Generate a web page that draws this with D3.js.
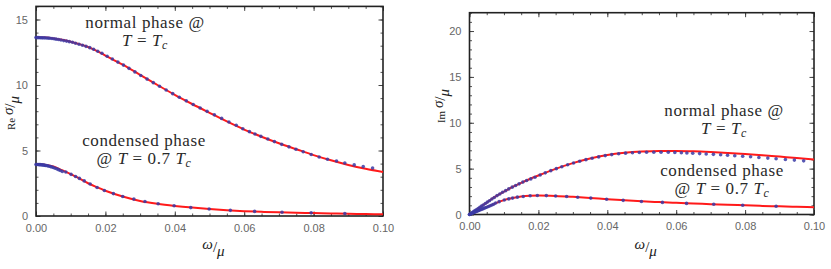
<!DOCTYPE html>
<html>
<head>
<meta charset="utf-8">
<script src="https://cdn.jsdelivr.net/npm/d3@7"></script>
<style>
  body { margin: 0; background: #fff; }
  .tick text { font-family: "Liberation Sans", Arial, sans-serif; font-size: 11px; fill: #666; }
  .note { font-family: "Liberation Serif", "DejaVu Serif", serif; font-size: 17px; fill: #2a2a2a; letter-spacing: 0.6px; }
  .lab { font-family: "Liberation Serif", "DejaVu Serif", serif; fill: #222; }
</style>
</head>
<body>
<svg id="chart" width="831" height="269"></svg>
<script>
// red fitted curves, all on the same omega grid
let lineW = [0, 0.0025, 0.005, 0.0075, 0.01, 0.0125, 0.015, 0.0175, 0.02, 0.025, 0.03, 0.035, 0.04,
    0.045, 0.05, 0.055, 0.06, 0.065, 0.07, 0.075, 0.08, 0.085, 0.09, 0.095, 0.1]
let reNormalLine = [13.65, 13.62, 13.55, 13.45, 13.3, 13.12, 12.9, 12.6, 12.25, 11.55, 10.78, 10.0, 9.25,
    8.55, 7.88, 7.22, 6.6, 6.05, 5.55, 5.1, 4.65, 4.25, 3.9, 3.6, 3.36]
let reCondLine = [3.95, 3.92, 3.78, 3.5, 3.2, 2.87, 2.5, 2.2, 1.93, 1.49, 1.15, 0.93, 0.77,
    0.64, 0.53, 0.44, 0.37, 0.32, 0.28, 0.25, 0.22, 0.19, 0.17, 0.15, 0.13]
let imNormalLine = [0, 0.65, 1.3, 1.95, 2.5, 3.0, 3.45, 3.87, 4.25, 4.98, 5.6, 6.1, 6.48,
    6.72, 6.86, 6.93, 6.93, 6.89, 6.81, 6.71, 6.59, 6.46, 6.31, 6.16, 6.0]
let imCondLine = [0, 0.4, 0.8, 1.22, 1.57, 1.8, 1.96, 2.05, 2.08, 2.03, 1.93, 1.81, 1.67,
    1.55, 1.44, 1.35, 1.27, 1.2, 1.13, 1.06, 1.0, 0.94, 0.89, 0.84, 0.8]

// blue numerical points, normal phase
let normalW = [0, 0.0004, 0.0008, 0.0012, 0.0016, 0.002, 0.0025, 0.003, 0.0035, 0.004, 0.0046, 0.0052,
    0.0058, 0.0065, 0.0072, 0.008, 0.0088, 0.0096, 0.0105, 0.0114, 0.0124, 0.0134, 0.0144, 0.0155,
    0.0166, 0.0178, 0.019, 0.0205, 0.022, 0.0236, 0.0252, 0.0268, 0.0285, 0.0302, 0.032, 0.0338,
    0.0356, 0.0375, 0.0394, 0.0413, 0.0433, 0.0453, 0.0473, 0.0493, 0.0514, 0.0535, 0.0556, 0.0577,
    0.0596, 0.0615, 0.0631, 0.0648, 0.0668, 0.0687, 0.0708, 0.0729, 0.0749, 0.077, 0.0793, 0.0816,
    0.084, 0.0866, 0.089, 0.0917, 0.0943, 0.097]
let reNormalDots = [13.62, 13.62, 13.62, 13.61, 13.61, 13.6, 13.6, 13.59, 13.58, 13.57, 13.55, 13.53,
    13.5, 13.47, 13.43, 13.39, 13.35, 13.31, 13.26, 13.19, 13.11, 13.03, 12.95, 12.85,
    12.73, 12.58, 12.42, 12.2, 11.98, 11.75, 11.52, 11.27, 11.0, 10.72, 10.45, 10.18,
    9.91, 9.62, 9.34, 9.07, 8.79, 8.51, 8.25, 7.99, 7.72, 7.45, 7.18, 6.93,
    6.66, 6.44, 6.26, 6.08, 5.88, 5.68, 5.47, 5.28, 5.1, 4.9, 4.7, 4.5,
    4.33, 4.2, 4.05, 3.9, 3.77, 3.66]
let imNormalDots = [0, 0.1, 0.21, 0.31, 0.42, 0.52, 0.65, 0.78, 0.91, 1.04, 1.2, 1.35,
    1.5, 1.69, 1.86, 2.06, 2.24, 2.42, 2.6, 2.79, 2.98, 3.16, 3.34, 3.53,
    3.7, 3.88, 4.06, 4.3, 4.54, 4.78, 5.0, 5.2, 5.42, 5.62, 5.8, 5.98,
    6.14, 6.28, 6.42, 6.53, 6.62, 6.69, 6.73, 6.76, 6.78, 6.79, 6.79, 6.78,
    6.76, 6.74, 6.71, 6.68, 6.64, 6.6, 6.56, 6.51, 6.46, 6.41, 6.35, 6.29,
    6.22, 6.15, 6.08, 6.0, 5.93, 5.85]

// blue numerical points, condensed phase
let condW = [0, 0.0003, 0.0006, 0.0009, 0.0012, 0.0015, 0.0018, 0.0021, 0.0024, 0.0027, 0.003, 0.0034,
    0.0038, 0.0042, 0.0046, 0.005, 0.0055, 0.006, 0.0065, 0.007, 0.0076, 0.0086, 0.0101, 0.0114,
    0.0125, 0.0139, 0.0156, 0.0176, 0.0197, 0.0223, 0.025, 0.0282, 0.0314, 0.0352, 0.0398, 0.0446,
    0.0499, 0.056, 0.063, 0.0709, 0.0793, 0.089]
let reCondDots = [3.93, 3.93, 3.93, 3.92, 3.92, 3.91, 3.9, 3.89, 3.88, 3.86, 3.85, 3.83,
    3.8, 3.77, 3.74, 3.7, 3.65, 3.6, 3.54, 3.47, 3.4, 3.36, 3.18, 3.02,
    2.87, 2.68, 2.44, 2.18, 1.95, 1.71, 1.49, 1.29, 1.11, 0.94, 0.78, 0.64,
    0.53, 0.43, 0.35, 0.29, 0.24, 0.19]
let imCondDots = [0, 0.05, 0.1, 0.15, 0.2, 0.25, 0.3, 0.35, 0.4, 0.44, 0.49, 0.55,
    0.61, 0.67, 0.73, 0.79, 0.87, 0.95, 1.03, 1.11, 1.25, 1.4, 1.58, 1.7,
    1.79, 1.89, 1.97, 2.04, 2.07, 2.06, 2.02, 1.96, 1.88, 1.79, 1.66, 1.54,
    1.42, 1.32, 1.21, 1.11, 1.01, 0.9]

let xMajor = [0, 0.02, 0.04, 0.06, 0.08, 0.1]
let reYTicks = [0, 5, 10, 15]
let imYTicks = [0, 5, 10, 15, 20]

let svg = d3.select("#chart")

function zip(w, v) { return w.map((d, i) => ({ w: d, v: v[i] })) }

function drawPanel(p) {
    let xScale = d3.scaleLinear().domain([0, 0.1]).range([p.x0, p.x1])
    let yScale = d3.scaleLinear().domain([0, p.yMax]).range([p.y1, p.y0])
    let g = svg.append("g")

    let xMinor = d3.range(0, 0.1001, 0.005)
    let yMinor = d3.range(0, p.yMax + 0.01, 1)

    // minor ticks (inward), all four sides
    let axes = [
        [d3.axisBottom, "translate(0," + p.y1 + ")", xScale, xMinor],
        [d3.axisTop, "translate(0," + p.y0 + ")", xScale, xMinor],
        [d3.axisLeft, "translate(" + p.x0 + ",0)", yScale, yMinor],
        [d3.axisRight, "translate(" + p.x1 + ",0)", yScale, yMinor]
    ]
    axes.forEach(a => {
        g.append("g").attr("transform", a[1])
            .call(a[0](a[2]).tickValues(a[3]).tickSize(-2.5).tickFormat(""))
            .call(s => s.select(".domain").remove())
            .selectAll("line").attr("stroke", "#555")
    })
    // major ticks
    g.append("g").attr("transform", "translate(0," + p.y1 + ")")
        .call(d3.axisBottom(xScale).tickValues(xMajor).tickSize(-4.5).tickPadding(8).tickFormat(d3.format(".2f")))
        .call(s => s.select(".domain").remove())
        .selectAll("line").attr("stroke", "#444")
    g.append("g").attr("transform", "translate(0," + p.y0 + ")")
        .call(d3.axisTop(xScale).tickValues(xMajor).tickSize(-4.5).tickFormat(""))
        .call(s => s.select(".domain").remove())
        .selectAll("line").attr("stroke", "#444")
    g.append("g").attr("transform", "translate(" + p.x0 + ",0)")
        .call(d3.axisLeft(yScale).tickValues(p.yTicks).tickSize(-4.5).tickPadding(8))
        .call(s => s.select(".domain").remove())
        .selectAll("line").attr("stroke", "#444")
    g.append("g").attr("transform", "translate(" + p.x1 + ",0)")
        .call(d3.axisRight(yScale).tickValues(p.yTicks).tickSize(-4.5).tickFormat(""))
        .call(s => s.select(".domain").remove())
        .selectAll("line").attr("stroke", "#444")

    // frame
    g.append("rect")
        .attr("x", p.x0).attr("y", p.y0)
        .attr("width", p.x1 - p.x0).attr("height", p.y1 - p.y0)
        .attr("fill", "none").attr("stroke", "#222").attr("stroke-width", 1.6)

    let line = d3.line()
        .x(d => xScale(d.w))
        .y(d => yScale(d.v))
        .curve(d3.curveMonotoneX)

    p.lines.forEach(vals => {
        g.append("path")
            .datum(zip(lineW, vals))
            .attr("d", line)
            .attr("fill", "none")
            .attr("stroke", "#ff1a1a")
            .attr("stroke-width", 2)
    })

    p.dots.forEach(s => {
        g.append("g").selectAll("circle")
            .data(zip(s[0], s[1]))
            .join("circle")
            .attr("cx", d => xScale(d.w))
            .attr("cy", d => yScale(d.v))
            .attr("r", 1.8)
            .attr("fill", "#3b3ba6")
            .attr("fill-opacity", 0.85)
    })

    // x label  ω/μ
    let xl = g.append("text").attr("class", "lab")
        .attr("x", (p.x0 + p.x1) / 2 + 4).attr("y", 252)
        .attr("text-anchor", "middle").attr("font-size", 15)
    xl.append("tspan").attr("font-style", "italic").attr("dy", -3).text("ω")
    xl.append("tspan").attr("dy", 3).text("/")
    xl.append("tspan").attr("font-style", "italic").attr("dy", 4).text("μ")

    // y label  Re σ/μ
    let yl = g.append("text").attr("class", "lab")
        .attr("transform", "translate(" + p.labX + "," + p.labY + ") rotate(-90)")
        .attr("text-anchor", "middle").attr("font-size", 15)
    yl.append("tspan").attr("font-size", 11).text(p.part + " ")
    yl.append("tspan").attr("font-style", "italic").attr("dy", -2).text("σ")
    yl.append("tspan").attr("dy", 2).text("/")
    yl.append("tspan").attr("font-style", "italic").attr("dy", 4).text("μ")

    p.notes.forEach(n => {
        let t1 = g.append("text").attr("class", "note")
            .attr("x", n.x).attr("y", n.y1).attr("text-anchor", "middle")
        if (n.normal) {
            t1.text("normal phase @")
        } else {
            t1.text("condensed phase")
        }
        let t2 = g.append("text").attr("class", "note")
            .attr("x", n.x).attr("y", n.y2).attr("text-anchor", "middle")
        if (!n.normal) t2.append("tspan").text("@ ")
        t2.append("tspan").attr("font-style", "italic").text("T")
        t2.append("tspan").text(" = ")
        if (!n.normal) t2.append("tspan").text("0.7 ")
        t2.append("tspan").attr("font-style", "italic").text("T")
        t2.append("tspan").attr("font-style", "italic").attr("font-size", 12).attr("dy", 3).text("c")
    })
}

drawPanel({
    x0: 36, x1: 383, y0: 6.4, y1: 216, yMax: 16, yTicks: reYTicks,
    lines: [reNormalLine, reCondLine],
    dots: [[normalW, reNormalDots], [condW, reCondDots]],
    part: "Re", labX: 15, labY: 113,
    notes: [
        { normal: true, x: 145, y1: 28, y2: 46 },
        { normal: false, x: 144, y1: 146, y2: 164 }
    ]
})

drawPanel({
    x0: 469.5, x1: 814, y0: 12.7, y1: 214.5, yMax: 22, yTicks: imYTicks,
    lines: [imNormalLine, imCondLine],
    dots: [[normalW, imNormalDots], [condW, imCondDots]],
    part: "Im", labX: 445, labY: 106,
    notes: [
        { normal: true, x: 724, y1: 116, y2: 134 },
        { normal: false, x: 722, y1: 176, y2: 194 }
    ]
})
</script>
</body>
</html>
